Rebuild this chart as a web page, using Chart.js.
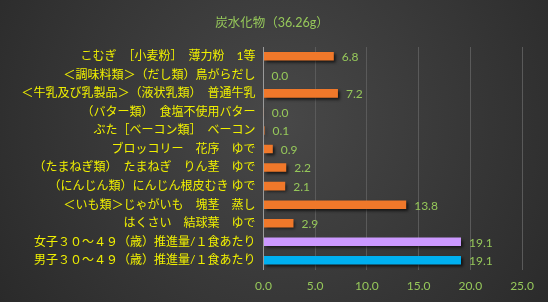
<!DOCTYPE html>
<html><head><meta charset="utf-8">
<script src="https://cdn.jsdelivr.net/npm/chart.js@4"></script>
<style>html,body{margin:0;padding:0;background:#2c2c2c;overflow:hidden}</style>
</head><body>
<canvas id="c" width="548" height="302"></canvas>
<script>
const chartTitle = '炭水化物（36.26g）';
const categories = [
  'こむぎ　［小麦粉］　薄力粉　1等',
  '＜調味料類＞（だし類）鳥がらだし',
  '＜牛乳及び乳製品＞（液状乳類）　普通牛乳',
  '（バター類）　食塩不使用バター',
  'ぶた［ベーコン類］　ベーコン',
  'ブロッコリー　花序　ゆで',
  '（たまねぎ類）　たまねぎ　りん茎　ゆで',
  '（にんじん類）にんじん根皮むき ゆで',
  '＜いも類＞じゃがいも　塊茎　蒸し',
  'はくさい　結球葉　ゆで',
  '女子３０～４９（歳）推進量/１食あたり',
  '男子３０～４９（歳）推進量/１食あたり'
];
const values = [6.8, 0.0, 7.2, 0.03, 0.1, 0.9, 2.2, 2.1, 13.8, 2.9, 19.1, 19.1];
const barColors = ['#F0782A','#F0782A','#F0782A','#F0782A','#F0782A','#F0782A','#F0782A','#F0782A','#F0782A','#F0782A','#CC99FF','#00B0F0'];
const xMin = 0, xMax = 25, xStep = 5;

const FONT = 'Lato, "Noto Sans CJK JP", sans-serif';

const bgPlugin = {
  id: 'bg',
  beforeDraw(chart) {
    const {ctx, width, height} = chart;
    ctx.save();
    const g = ctx.createRadialGradient(280, 120, 10, 280, 120, 380);
    g.addColorStop(0, '#474747');
    g.addColorStop(1, '#262626');
    ctx.fillStyle = g;
    ctx.fillRect(0, 0, width, height);
    ctx.restore();
  }
};
const shadowPlugin = {
  id: 'shadow',
  beforeDatasetsDraw(chart) {
    const ctx = chart.ctx;
    ctx.save();
    ctx.shadowColor = 'rgba(0,0,0,0.65)';
    ctx.shadowBlur = 3;
    ctx.shadowOffsetX = 2;
    ctx.shadowOffsetY = 2;
  },
  afterDatasetsDraw(chart) {
    chart.ctx.restore();
  }
};
const labelPlugin = {
  id: 'vlabels',
  afterDatasetsDraw(chart) {
    const ctx = chart.ctx;
    const meta = chart.getDatasetMeta(0);
    ctx.save();
    ctx.shadowColor = 'transparent';
    ctx.font = '12px ' + FONT;
    ctx.fillStyle = '#96C85A';
    ctx.textAlign = 'left';
    ctx.textBaseline = 'middle';
    meta.data.forEach((el, i) => {
      ctx.fillText(values[i].toFixed(1), el.x + 8, el.y + 1);
    });
    ctx.restore();
  }
};

new Chart(document.getElementById('c'), {
  type: 'bar',
  data: {
    labels: categories,
    datasets: [{
      data: values,
      backgroundColor: barColors,
      borderWidth: 0,
      barPercentage: 0.5,
      categoryPercentage: 0.92
    }]
  },
  options: {
    indexAxis: 'y',
    responsive: false,
    animation: false,
    devicePixelRatio: 1,
    layout: { padding: { left: 22, right: 26, top: 0, bottom: 0 } },
    plugins: {
      legend: { display: false },
      tooltip: { enabled: false },
      title: {
        display: true,
        text: chartTitle,
        color: '#96C85A',
        font: { family: FONT, size: 12.5, weight: 'normal' },
        padding: { top: 15, bottom: 17 }
      }
    },
    scales: {
      x: {
        min: xMin, max: xMax,
        ticks: {
          stepSize: xStep,
          color: '#96C85A',
          font: { family: FONT, size: 12 },
          padding: 9,
          callback: v => Number(v).toFixed(1)
        },
        grid: { color: '#5a5a5a', drawTicks: false, lineWidth: 1 },
        border: { display: false }
      },
      y: {
        ticks: {
          color: '#F0F000',
          font: { family: FONT, size: 12 },
          padding: 8,
          autoSkip: false
        },
        grid: { display: false, drawTicks: false },
        border: { display: true, color: '#9a9a9a', width: 1 },
        afterFit(scale) { scale.width = 241.5; }
      }
    }
  },
  plugins: [bgPlugin, shadowPlugin, labelPlugin]
});
</script>
</body></html>
